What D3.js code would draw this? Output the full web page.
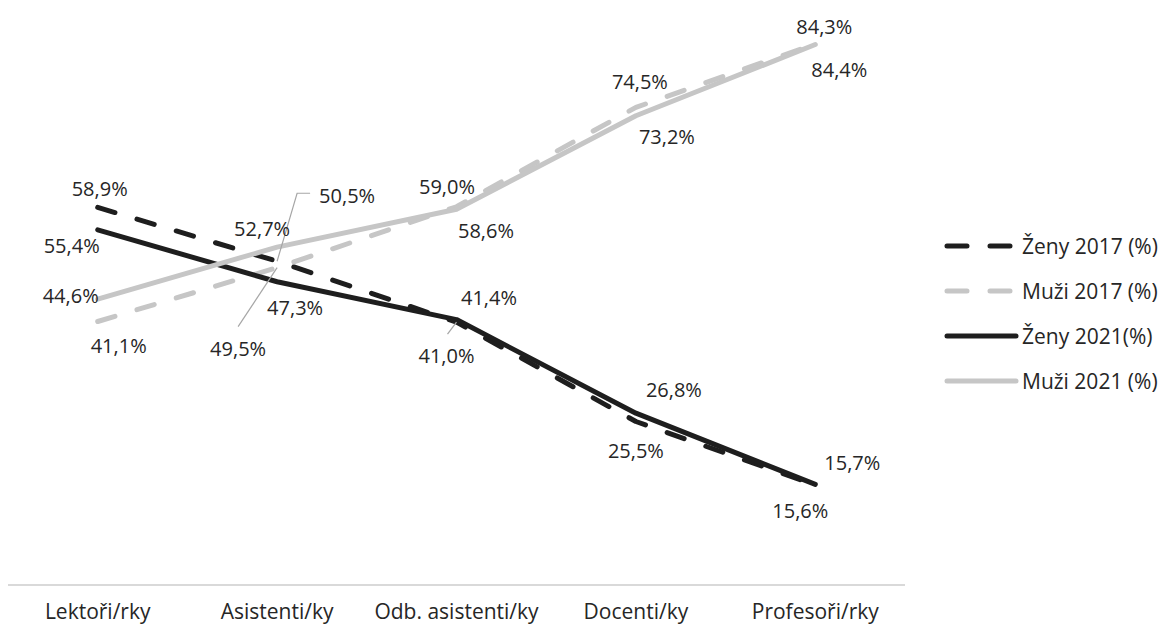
<!DOCTYPE html>
<html>
<head>
<meta charset="utf-8">
<script src="https://cdn.jsdelivr.net/npm/d3@7"></script>
<style>
  html, body { margin: 0; padding: 0; background: #fff; }
  svg text { font-family: "Open Sans", sans-serif; fill: #262626; }
</style>
</head>
<body>
<svg id="chart" width="1164" height="626"></svg>
<script>
// ---- data ----
const categories = ["Lektoři/rky", "Asistenti/ky", "Odb. asistenti/ky", "Docenti/ky", "Profesoři/rky"];
const zeny2017 = [58.9, 50.5, 41.0, 25.5, 15.6];
const muzi2017 = [41.1, 49.5, 59.0, 74.5, 84.4];
const zeny2021 = [55.4, 47.3, 41.4, 26.8, 15.7];
const muzi2021 = [44.6, 52.7, 58.6, 73.2, 84.3];
const seriesNames = ["Ženy 2017 (%)", "Muži 2017 (%)", "Ženy 2021(%)", "Muži 2021 (%)"];
const yDomain = [0, 90];

// ---- styling / layout (not data) ----
const BLACK = "#1e1e1e", GRAY = "#c6c6c6";
const styles = [
  { color: BLACK, dash: "18,23" },
  { color: GRAY, dash: "18,23" },
  { color: BLACK, dash: null },
  { color: GRAY, dash: null }
];
// label offsets (dx, dy) from each point's position
const labelOffsets = [
  [[2,-19],[70,-66],[-10,33],[0,28.5],[-15,26]],
  [[21,23.5],[-39,81],[-9.5,-20],[4,-26],[24,26]],
  [[-26,16],[18,26],[32.5,-21.6],[38,-24],[37,-22]],
  [[-27,-4],[-15,-19],[29.5,21],[31,21],[9,-17.6]]
];

const seriesData = [zeny2017, muzi2017, zeny2021, muzi2021];
const svg = d3.select("#chart");

const x = d3.scaleBand().domain(categories).range([8, 905]);
const y = d3.scaleLinear().domain(yDomain).range([585, 8]);
const cx = c => x(c) + x.bandwidth() / 2;

// axis line
svg.append("line")
  .attr("x1", 8).attr("x2", 905)
  .attr("y1", y(0)).attr("y2", y(0))
  .attr("stroke", "#d9d9d9").attr("stroke-width", 2);

// category labels
svg.selectAll("text.cat").data(categories).enter().append("text")
  .attr("class", "cat")
  .attr("x", d => cx(d))
  .attr("y", 619)
  .attr("text-anchor", "middle")
  .style("font-size", "21px")
  .text(d => d);

const line = d3.line().x((d, i) => cx(categories[i])).y(d => y(d));

// series lines
seriesData.forEach((vals, si) => {
  const p = svg.append("path")
    .datum(vals)
    .attr("d", line)
    .attr("fill", "none")
    .attr("stroke", styles[si].color)
    .attr("stroke-width", 5)
    .attr("stroke-linecap", "round")
    .attr("stroke-linejoin", "round");
  if (styles[si].dash) p.attr("stroke-dasharray", styles[si].dash);
});

const fmt = v => d3.format(".1f")(v).replace(".", ",") + "%";

// leader lines (for labels moved away from points)
const leaderColor = "#a6a6a6";
function leader(pts) {
  svg.append("path")
    .attr("d", d3.line()(pts))
    .attr("fill", "none")
    .attr("stroke", leaderColor)
    .attr("stroke-width", 1.2);
}
// 50,5% (Ženy 2017, Asistenti)
{
  const px = cx(categories[1]), py = y(zeny2017[1]);
  const lx = px + labelOffsets[0][1][0], ly = py + labelOffsets[0][1][1];
  leader([[lx - 37, ly - 2], [lx - 50, ly - 2], [px, py]]);
}
// 49,5% (Muži 2017, Asistenti)
{
  const px = cx(categories[1]), py = y(muzi2017[1]);
  const lx = px + labelOffsets[1][1][0], ly = py + labelOffsets[1][1][1];
  leader([[lx, ly - 22], [px, py]]);
}
// 41,0% (Ženy 2017, Odb. asistenti)
{
  const px = cx(categories[2]), py = y(zeny2017[2]);
  const lx = px + labelOffsets[0][2][0], ly = py + labelOffsets[0][2][1];
  leader([[lx + 1, ly - 21], [px, py]]);
}

// data labels
seriesData.forEach((vals, si) => {
  vals.forEach((v, i) => {
    const off = labelOffsets[si][i];
    svg.append("text")
      .attr("x", cx(categories[i]) + off[0])
      .attr("y", y(v) + off[1])
      .attr("text-anchor", "middle")
      .attr("dominant-baseline", "central")
      .style("font-size", "20px")
      .text(fmt(v));
  });
});

// legend
const legendY0 = 246, legendStep = 45;
seriesNames.forEach((name, si) => {
  const ly = legendY0 + si * legendStep;
  const l = svg.append("line")
    .attr("x1", 947).attr("x2", 1016)
    .attr("y1", ly).attr("y2", ly)
    .attr("stroke", styles[si].color)
    .attr("stroke-width", 5)
    .attr("stroke-linecap", "round");
  if (styles[si].dash) l.attr("stroke-dasharray", "20,23");
  svg.append("text")
    .attr("x", 1022)
    .attr("y", ly)
    .attr("dominant-baseline", "central")
    .style("font-size", "21px")
    .text(name);
});
</script>
</body>
</html>
